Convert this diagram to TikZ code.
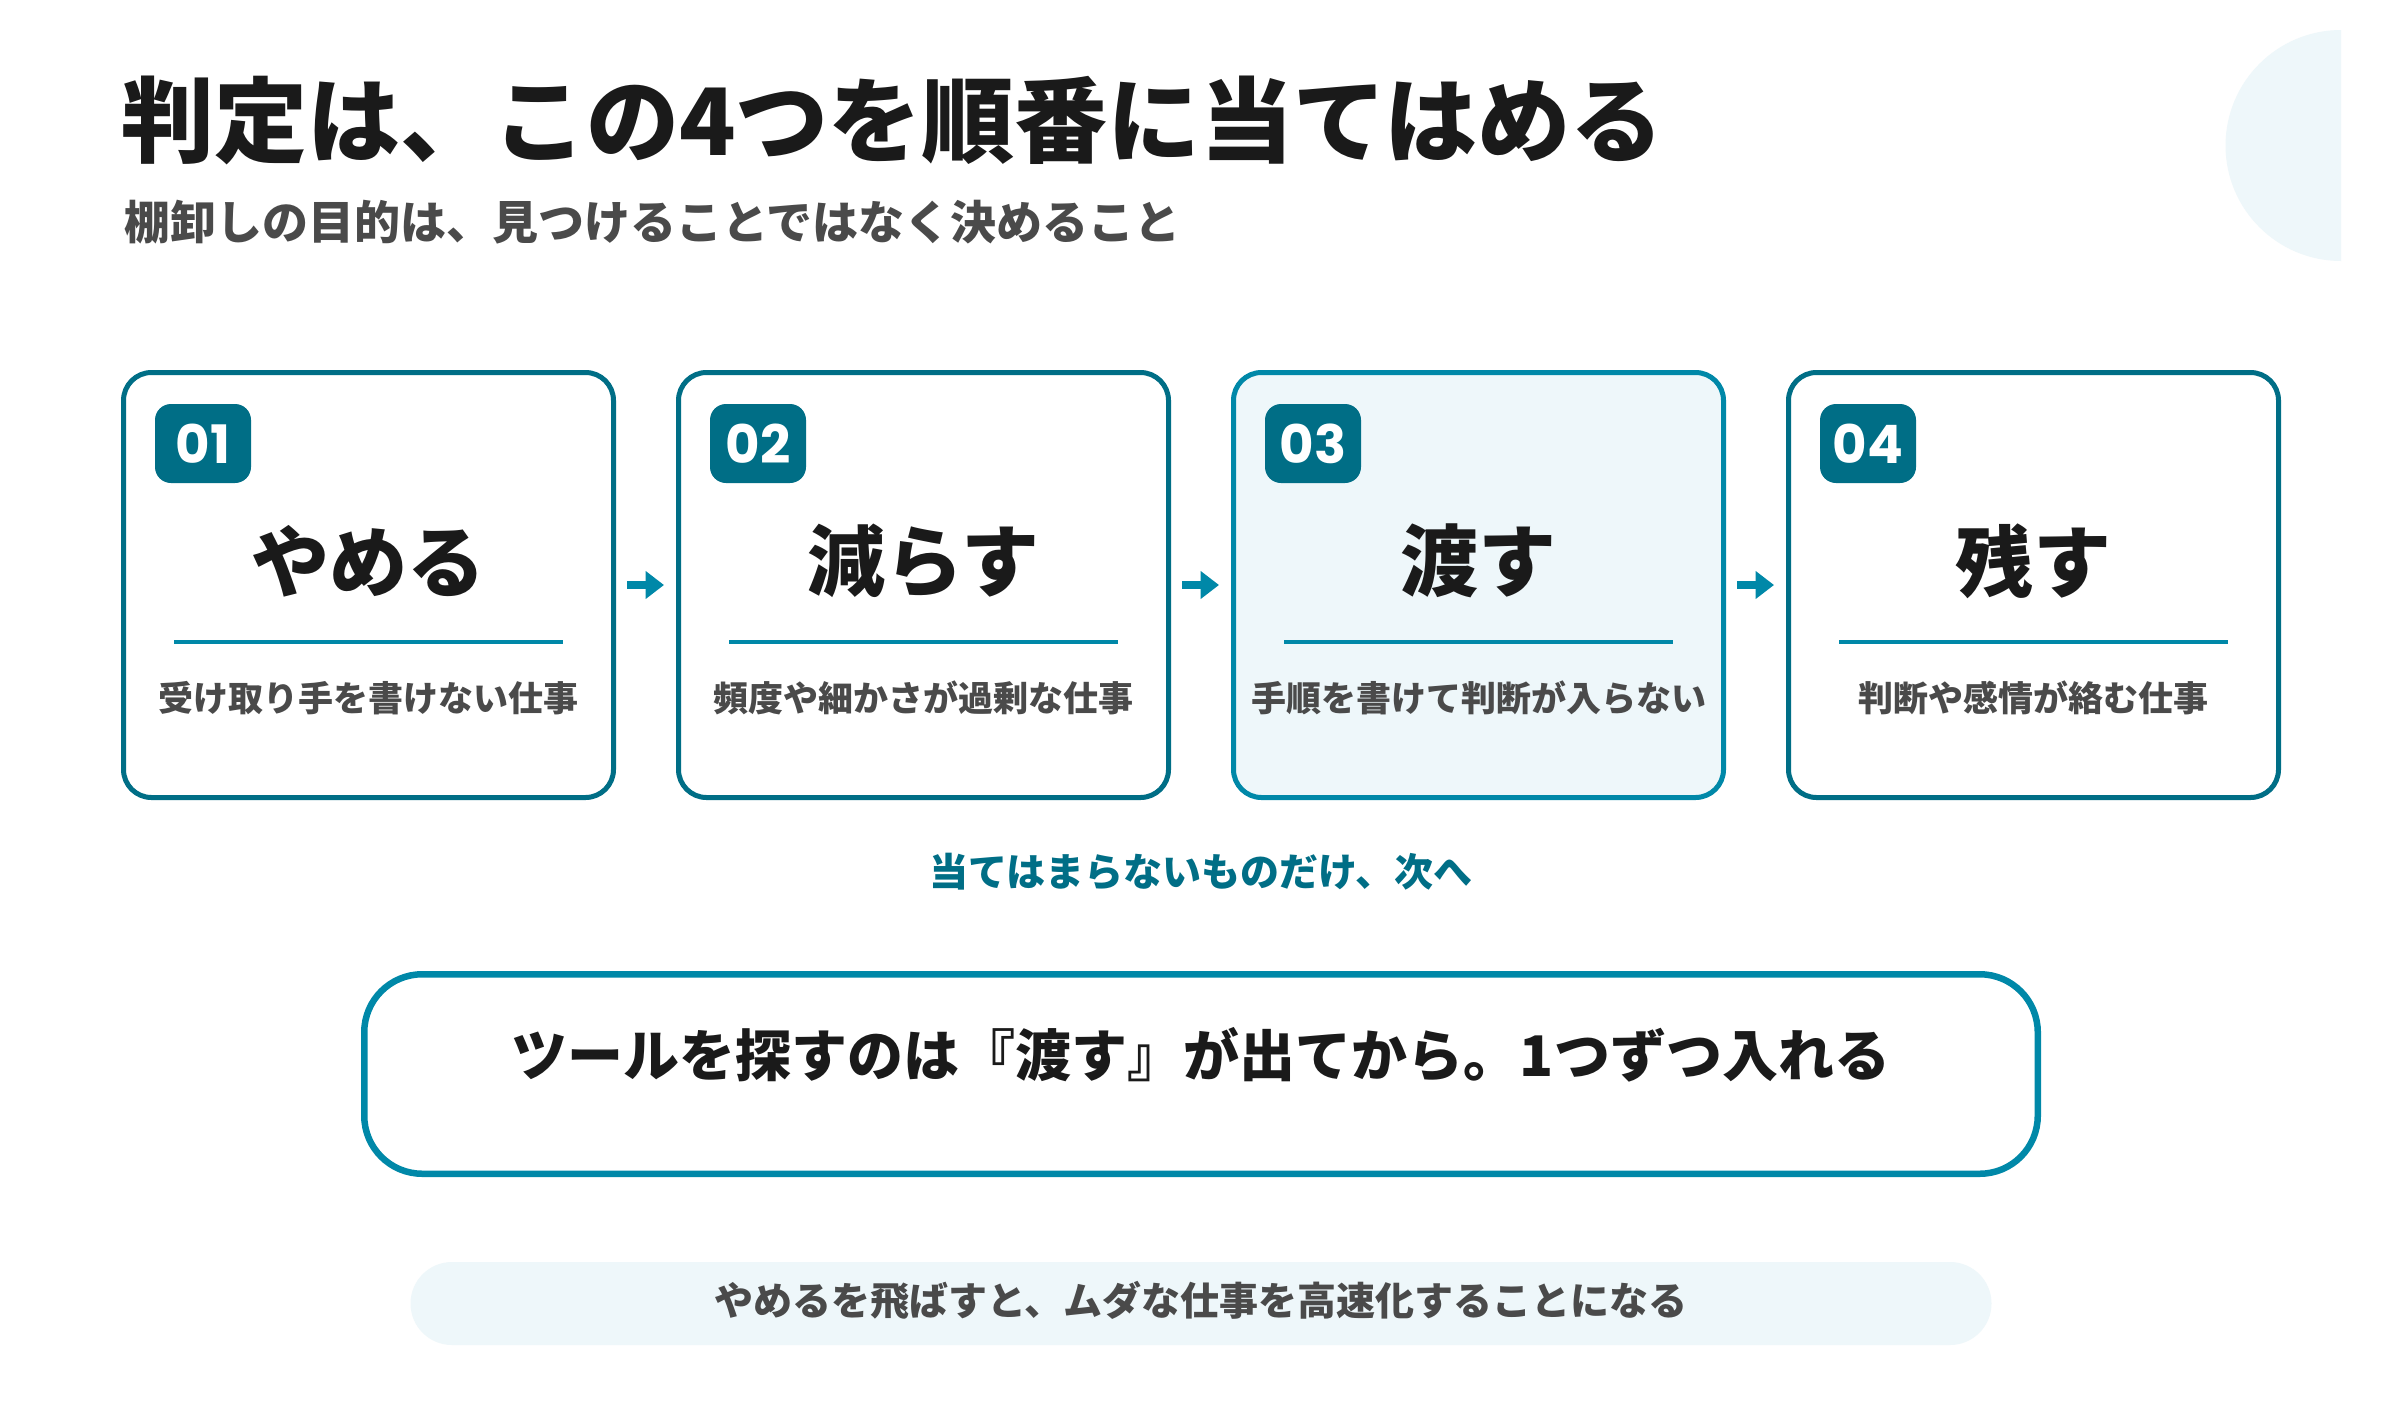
\documentclass[tikz,border=0pt]{standalone}
\usepackage{fontspec}
\setmainfont{Noto Sans CJK JP}
\newfontfamily\jpblack{Noto Sans CJK JP Black}
\newfontfamily\numfont{Poppins}
\usetikzlibrary{arrows.meta}
\definecolor{darkteal}{HTML}{006E86}
\definecolor{accent}{HTML}{0088A8}
\definecolor{lightbg}{HTML}{EEF7FA}
\definecolor{ink}{HTML}{1A1A1A}
\definecolor{graytxt}{HTML}{4A4A4A}
\newcommand\fsz[1]{\fontsize{#1}{#1}\selectfont}
\tikzset{
  card/.style={draw=darkteal, fill=white, line width=5pt, rounded corners=28pt,
    minimum width=490pt, minimum height=425pt, inner sep=0pt},
  hicard/.style={card, draw=accent, fill=lightbg},
  badge/.style={fill=darkteal, rounded corners=16pt, minimum width=96pt,
    minimum height=79pt, inner sep=0pt, text=white, font=\numfont\bfseries\fsz{53}},
  cardtitle/.style={inner sep=0pt, text=ink, font=\jpblack\fsz{78}},
  carddesc/.style={inner sep=0pt, text=graytxt, font=\bfseries\fsz{35}},
  divider/.style={draw=accent, line width=4pt},
  flowarrow/.style={draw=accent, line width=7.5pt, -{Triangle[length=18.5pt,width=27pt]}},
}
\begin{document}
\begin{tikzpicture}[x=1pt,y=1pt]
\useasboundingbox (0,0) rectangle (2400,-1400);
\fill[white] (0,0) rectangle (2400,-1400);
% decorative half circle
\fill[lightbg] (2341,-30) arc[start angle=90, end angle=270, radius=115.5] -- cycle;
% title
\node[anchor=west, inner sep=0pt, text=ink, font=\jpblack\fsz{93}] (title) at (121,-120)
  {判定は、この4つを順番に当てはめる};
\node[anchor=west, inner sep=0pt, text=graytxt, font=\bfseries\fsz{46}] (subtitle) at (124,-222)
  {棚卸しの目的は、見つけることではなく決めること};
% cards
\foreach \i/\cx/\sty/\ttl/\dsc in {
  1/368.5/card/やめる/受け取り手を書けない仕事,
  2/923.5/card/減らす/頻度や細かさが過剰な仕事,
  3/1478.5/hicard/渡す/手順を書けて判断が入らない,
  4/2033.5/card/残す/判断や感情が絡む仕事}{
  \node[\sty] (c\i) at (\cx,-585) {};
  \node[badge] (b\i) at (\cx-165.5,-443.5) {0\i};
  \node[cardtitle] (t\i) at (\cx,-561) {\ttl};
  \coordinate (dl\i) at (\cx-194.5,-642);
  \coordinate (dr\i) at (\cx+194.5,-642);
  \draw[divider] (dl\i) -- (dr\i);
  \node[carddesc] (d\i) at (\cx,-698) {\dsc};
}
\foreach \a/\b in {1/2,2/3,3/4}{
  \draw[flowarrow] ([xshift=11pt]c\a.east) -- ([xshift=-12pt]c\b.west);
}
% next note
\node[inner sep=0pt, text=darkteal, font=\bfseries\fsz{39}] (next) at (1201,-872)
  {当てはまらないものだけ、次へ};
% big box
\node[draw=accent, fill=white, line width=6.5pt, rounded corners=58pt,
  minimum width=1673.5pt, minimum height=199.5pt, inner sep=0pt] (bigbox) at (1201,-1074) {};
\node[inner sep=0pt, text=ink, font=\jpblack\fsz{56}] (bigtext) at (1201,-1055)
  {ツールを探すのは『渡す』が出てから。1つずつ入れる};
% bottom pill
\node[fill=lightbg, rounded corners=41.5pt, minimum width=1581pt, minimum height=83pt,
  inner sep=0pt] (pill) at (1201,-1303.5) {};
\node[inner sep=0pt, text=graytxt, font=\bfseries\fsz{39}] (pilltext) at (1201,-1300)
  {やめるを飛ばすと、ムダな仕事を高速化することになる};
\end{tikzpicture}
\end{document}
